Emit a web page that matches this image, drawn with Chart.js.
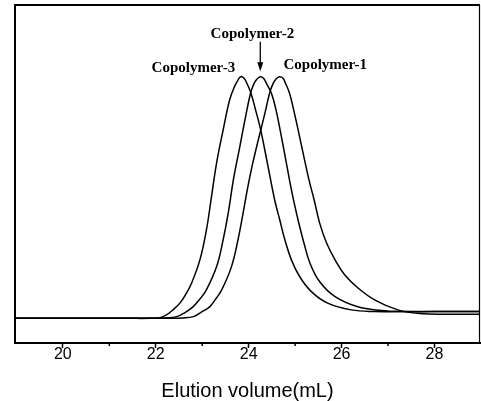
<!DOCTYPE html>
<html>
<head>
<meta charset="utf-8">
<script src="https://cdn.jsdelivr.net/npm/chart.js@4.4.0/dist/chart.umd.min.js"></script>
<style>
html,body{margin:0;padding:0;background:#fff;}
#wrap{width:481px;height:401px;}
</style>
</head>
<body>
<div id="wrap"><canvas id="c" width="481" height="401"></canvas></div>
<script>
// ---- data ----
const seriesNames = ['Copolymer-1', 'Copolymer-2', 'Copolymer-3'];

const xCop1 = [18.97, 20.5, 21.8, 22.30, 22.58, 22.81, 22.99, 23.16, 23.29, 23.42, 23.63, 23.77, 23.88, 23.97, 24.07, 24.17, 24.26, 24.35, 24.45, 24.52, 24.59, 24.66, 24.74, 24.80, 24.88, 24.97, 25.08, 25.19, 25.30, 25.41, 25.53, 25.68, 25.86, 26.07, 26.36, 26.72, 27.21, 27.68, 28.33, 28.98];
const yCop1 = [7.3, 7.3, 7.3, 7.3, 7.4, 7.8, 9.2, 10.7, 13.0, 15.7, 22.6, 30.5, 38.4, 45.3, 52.1, 58.0, 63.0, 68.0, 73.9, 76.6, 78.1, 78.8, 78.3, 76.6, 73.9, 68.9, 62.1, 55.0, 48.2, 42.3, 35.4, 29.5, 24.6, 20.1, 16.2, 12.7, 9.8, 8.7, 8.5, 8.5];

const xCop2 = [18.97, 20.5, 21.5, 21.98, 22.22, 22.45, 22.63, 22.80, 22.95, 23.09, 23.31, 23.45, 23.56, 23.67, 23.81, 23.92, 24.04, 24.11, 24.18, 24.25, 24.32, 24.39, 24.49, 24.59, 24.69, 24.80, 24.90, 24.99, 25.09, 25.19, 25.32, 25.53, 25.86, 26.35, 26.86, 27.25, 28.0, 28.98];
const yCop2 = [7.3, 7.3, 7.3, 7.3, 7.4, 7.8, 9.0, 10.7, 13.0, 15.7, 22.6, 30.5, 38.4, 48.2, 58.1, 66.0, 73.9, 76.6, 78.1, 78.8, 78.3, 76.6, 73.9, 68.9, 62.1, 54.1, 46.7, 40.8, 34.9, 29.6, 23.6, 18.1, 13.7, 10.7, 9.6, 9.3, 9.3, 9.3];

const xCop3 = [18.97, 20.5, 21.4, 21.87, 22.09, 22.23, 22.37, 22.52, 22.65, 22.77, 22.95, 23.09, 23.20, 23.31, 23.45, 23.59, 23.70, 23.77, 23.83, 23.90, 23.96, 24.05, 24.15, 24.26, 24.41, 24.56, 24.67, 24.78, 24.92, 25.10, 25.35, 25.70, 26.21, 26.72, 27.25, 28.0, 28.98];
const yCop3 = [7.3, 7.3, 7.3, 7.3, 7.5, 8.3, 9.8, 11.8, 14.5, 17.7, 24.6, 33.4, 43.3, 53.3, 63.0, 71.9, 76.0, 77.8, 78.8, 78.3, 76.9, 73.9, 68.9, 63.0, 52.7, 42.3, 36.4, 30.5, 24.6, 19.6, 15.2, 11.8, 9.8, 9.3, 9.3, 9.3, 9.3];

const majorTicks = [20, 22, 24, 26, 28];
const minorTicks = [21, 23, 25, 27];
const xTitle = 'Elution volume(mL)';

// label anchors in data coordinates
const labelX = [25.65, 24.08, 22.81];
const labelY = [81.1, 90.2, 80.2];
const arrowX = 24.25, arrowY0 = 89.1, arrowY1 = 80.4;

function pts(xs, ys){ return xs.map((x,i)=>({x:x, y:ys[i]})); }

const frame = {
  id: 'frame',
  afterDraw(chart){
    const {ctx, chartArea:a, scales} = chart;
    const xs = scales.x, ys = scales.y;
    ctx.save();
    ctx.strokeStyle = '#000';
    ctx.lineWidth = 2;
    ctx.beginPath(); ctx.moveTo(a.left-1, a.top); ctx.lineTo(a.right, a.top); ctx.stroke();
    ctx.beginPath(); ctx.moveTo(a.left, a.top); ctx.lineTo(a.left, a.bottom); ctx.stroke();
    ctx.lineWidth = 1.2;
    ctx.beginPath(); ctx.moveTo(a.right-0.5, a.top); ctx.lineTo(a.right-0.5, a.bottom); ctx.stroke();
    ctx.lineWidth = 1.5;
    minorTicks.forEach(v=>{
      const px = xs.getPixelForValue(v);
      ctx.beginPath(); ctx.moveTo(px, a.bottom); ctx.lineTo(px, a.bottom+3); ctx.stroke();
    });
    ctx.fillStyle = '#000';
    ctx.font = 'bold 15px "Liberation Serif", "Times New Roman", serif';
    ctx.textAlign = 'center';
    ctx.textBaseline = 'alphabetic';
    seriesNames.forEach((n,i)=>{
      ctx.fillText(n, xs.getPixelForValue(labelX[i]), ys.getPixelForValue(labelY[i]));
    });
    const ax = xs.getPixelForValue(arrowX);
    const ay0 = ys.getPixelForValue(arrowY0), ay1 = ys.getPixelForValue(arrowY1);
    ctx.lineWidth = 1.3;
    ctx.beginPath(); ctx.moveTo(ax, ay0); ctx.lineTo(ax, ay1-6); ctx.stroke();
    ctx.beginPath(); ctx.moveTo(ax-3, ay1-9); ctx.lineTo(ax+3, ay1-9); ctx.lineTo(ax, ay1); ctx.closePath(); ctx.fill();
    ctx.restore();
  }
};

const lineStyle = {borderColor:'#000', borderWidth:1.5, pointRadius:0, fill:false, tension:0.4};

new Chart(document.getElementById('c'), {
  type: 'line',
  data: {
    datasets: [
      Object.assign({label: seriesNames[0], data: pts(xCop1, yCop1)}, lineStyle),
      Object.assign({label: seriesNames[1], data: pts(xCop2, yCop2)}, lineStyle),
      Object.assign({label: seriesNames[2], data: pts(xCop3, yCop3)}, lineStyle)
    ]
  },
  options: {
    responsive: false,
    animation: false,
    layout: {padding: {left: 15, right: 1, top: 5, bottom: 0}},
    plugins: {legend: {display: false}, tooltip: {enabled: false}},
    scales: {
      x: {
        type: 'linear',
        min: 18.97, max: 28.98,
        afterBuildTicks(scale){ scale.ticks = majorTicks.map(v=>({value:v})); },
        afterFit(scale){ scale.height = 58; },
        ticks: {
          autoSkip: false, maxRotation: 0, padding: -3.5, color: '#000',
          font: {family: '"Liberation Sans", Arial, sans-serif', size: 16},
          callback: v => String(v)
        },
        grid: {display: true, drawOnChartArea: false, drawTicks: true, tickLength: 5, tickWidth: 1.5, tickColor: '#000'},
        border: {display: true, color: '#000', width: 2},
        title: {display: true, text: xTitle, color: '#000',
          font: {family: '"Liberation Sans", Arial, sans-serif', size: 20, lineHeight: 1},
          padding: {top: 4, bottom: 0}}
      },
      y: {
        type: 'linear', min: 0, max: 100, display: false
      }
    }
  },
  plugins: [frame]
});
</script>
</body>
</html>
